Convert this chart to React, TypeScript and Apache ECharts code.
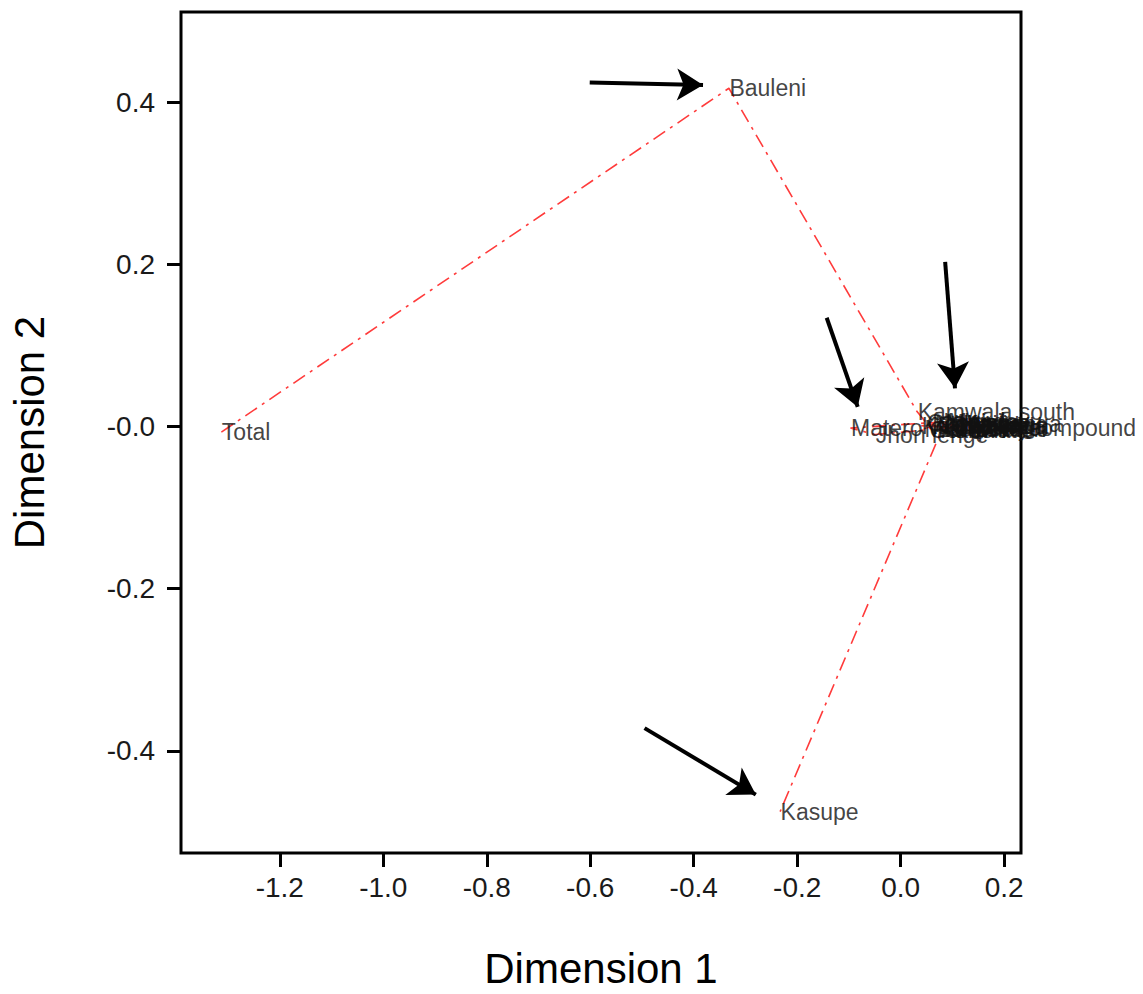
import React, { useEffect, useRef } from "react";
import * as echarts from "echarts";

// Point names and coordinates (Dimension 1, Dimension 2), in drawing order of the joining line
const names = [
  "Total",
  "Bauleni",
  "Kamwala south",
  "Chawama",
  "Kanyama",
  "Mtendere",
  "Chilenje",
  "Mandevu",
  "Matero",
  "Jhon lenge",
  "Garden",
  "Ng'ombe",
  "Kalingalinga",
  "Chibolya",
  "Misisi",
  "Kabwata",
  "Lilanda",
  "Chaisa",
  "Kamanga",
  "Chelston",
  "Chunga",
  "Chipata compound",
  "Kasupe",
];
const dim1 = [-1.313, -0.332, 0.032, 0.05, 0.06, 0.045, 0.07, 0.09, -0.097, -0.049, 0.055, 0.065, 0.04, 0.1, 0.085, 0.075, 0.11, 0.095, 0.12, 0.105, 0.13, 0.081, -0.233];
const dim2 = [-0.007, 0.417, 0.018, 0.004, 0.0, -0.003, 0.002, 0.006, -0.002, -0.01, -0.004, 0.003, 0.001, -0.002, 0.004, -0.005, 0.0, 0.002, 0.003, -0.003, 0.001, -0.002, -0.475];

const xTicks = [-1.2, -1.0, -0.8, -0.6, -0.4, -0.2, 0.0, 0.2];
const yTicks = [-0.4, -0.2, 0.0, 0.2, 0.4];

// Annotation arrows: [startX, startY, tipX, tipY] in data units
const arrows = [
  [-0.601, 0.424, -0.382, 0.421],
  [-0.495, -0.372, -0.28, -0.454],
  [-0.143, 0.134, -0.083, 0.024],
  [0.086, 0.203, 0.105, 0.047],
];

const FONT = "'Liberation Sans', Arial, sans-serif";

export default function App() {
  const ref = useRef<HTMLDivElement>(null);
  useEffect(() => {
    if (!ref.current) return;
    const chart = echarts.init(ref.current, undefined, { renderer: "svg" });
    const pts = names.map((n, i) => [dim1[i], dim2[i], n]);
    chart.setOption({
      animation: false,
      backgroundColor: "#ffffff",
      grid: {
        left: 178,
        top: 12,
        width: 843,
        height: 841,
        show: true,
        borderColor: "#000",
        borderWidth: 3,
        backgroundColor: "transparent",
      },
      xAxis: {
        type: "value",
        min: -1.391,
        max: 0.2326,
        name: "Dimension 1",
        nameLocation: "middle",
        nameGap: 94,
        nameTextStyle: { fontSize: 42, color: "#000", fontFamily: FONT },
        axisLine: { show: false, onZero: false },
        splitLine: { show: false },
        axisTick: {
          show: true,
          length: 14,
          lineStyle: { color: "#000", width: 3 },
          customValues: xTicks,
        },
        axisLabel: {
          customValues: xTicks,
          fontSize: 28,
          color: "#1a1a1a",
          fontFamily: FONT,
          margin: 20,
          formatter: (v: number) => v.toFixed(1),
        },
      },
      yAxis: {
        type: "value",
        min: -0.526,
        max: 0.511,
        name: "Dimension 2",
        nameLocation: "middle",
        nameRotate: 90,
        nameGap: 131,
        nameTextStyle: { fontSize: 42, color: "#000", fontFamily: FONT },
        axisLine: { show: false, onZero: false },
        splitLine: { show: false },
        axisTick: {
          show: true,
          length: 14,
          lineStyle: { color: "#000", width: 3 },
          customValues: yTicks,
        },
        axisLabel: {
          customValues: yTicks,
          fontSize: 28,
          color: "#1a1a1a",
          fontFamily: FONT,
          margin: 26,
          formatter: (v: number) => (Math.abs(v) < 1e-9 ? "-0.0" : v.toFixed(1)),
        },
      },
      series: [
        {
          type: "line",
          data: pts.map((p) => [p[0], p[1]]),
          showSymbol: false,
          symbol: "none",
          silent: true,
          lineStyle: { color: "#ff3b3b", width: 1.6, type: [14, 6, 3, 6] },
          z: 2,
        },
        {
          type: "scatter",
          data: pts,
          symbolSize: 1,
          itemStyle: { color: "rgba(0,0,0,0)" },
          silent: true,
          label: {
            show: true,
            position: "right",
            distance: 0,
            formatter: (p: any) => p.data[2],
            fontSize: 23,
            color: "#111",
            fontFamily: FONT,
          },
          labelLayout: { hideOverlap: false },
          z: 3,
          markLine: {
            silent: true,
            symbol: ["none", "arrow"],
            symbolSize: [24, 26],
            label: { show: false },
            lineStyle: { color: "#000", width: 4, type: "solid" },
            data: arrows.map((a) => [
              { coord: [a[0], a[1]] },
              { coord: [a[2], a[3]] },
            ]),
          },
        },
      ],
    });
    return () => chart.dispose();
  }, []);
  return (
    <div
      ref={ref}
      style={{ position: "absolute", left: 0, top: 0, width: 1143, height: 994 }}
    />
  );
}
